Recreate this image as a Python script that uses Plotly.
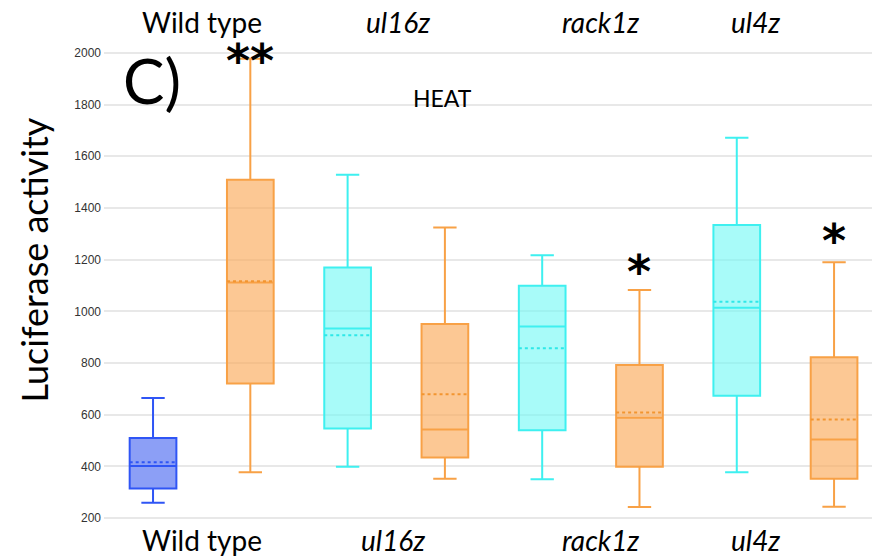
import plotly.graph_objects as go

# Luciferase activity per line, control vs heat-treated
groups = ["Wild type", "ul16z", "rack1z", "ul4z"]
conditions = ["control", "heat"]
lower_fence = [259, 377, 399, 352, 350, 243, 377, 244]
q1 = [315, 721, 547, 435, 540, 399, 673, 352]
median = [402, 1112, 934, 543, 941, 588, 1014, 504]
mean = [416, 1116, 908, 679, 857, 609, 1037, 582]
q3 = [510, 1509, 1170, 951, 1099, 792, 1334, 822]
upper_fence = [665, 1977, 1528, 1324, 1217, 1083, 1672, 1190]
significance = ["", "**", "", "", "", "*", "", "*"]
y_ticks = [200, 400, 600, 800, 1000, 1200, 1400, 1600, 1800, 2000]

# where each significance mark sits (y in axis units)
sig_mark_y = [None, 1968, None, None, None, 1152, None, 1272]

# styling per box: (line colour, fill colour, mean-line colour)
styles = [
    ("#2f55f5", "rgba(70,100,240,0.62)", "#2f55f5"),
    ("#f8a146", "rgba(250,170,90,0.65)", "#f29530"),
    ("#3ef0f0", "rgba(110,248,245,0.6)", "#2ee8e8"),
    ("#f8a146", "rgba(250,170,90,0.65)", "#f29530"),
    ("#3ef0f0", "rgba(110,248,245,0.6)", "#2ee8e8"),
    ("#f8a146", "rgba(250,170,90,0.65)", "#f29530"),
    ("#3ef0f0", "rgba(110,248,245,0.6)", "#2ee8e8"),
    ("#f8a146", "rgba(250,170,90,0.65)", "#f29530"),
]
box_width = 0.48

fig = go.Figure()
for i in range(len(median)):
    line_c, fill_c, mean_c = styles[i]
    fig.add_trace(go.Box(
        x=[i],
        lowerfence=[lower_fence[i]], q1=[q1[i]], median=[median[i]],
        q3=[q3[i]], upperfence=[upper_fence[i]],
        width=box_width,
        whiskerwidth=0.5,
        line=dict(color=line_c, width=2),
        fillcolor=fill_c,
        name=f"{groups[i // 2]} {conditions[i % 2]}",
        showlegend=False,
        hoverinfo="skip",
    ))
    # dotted mean line across the box
    fig.add_trace(go.Scatter(
        x=[i - box_width / 2, i + box_width / 2], y=[mean[i], mean[i]],
        mode="lines", line=dict(color=mean_c, width=2, dash="dot"),
        showlegend=False, hoverinfo="skip",
    ))

annotations = []
label_font = dict(family="Lato", size=28, color="black")

# group labels above and below the plot
top_pos = [0.5, 2.52, 4.6, 6.19]
bottom_pos = [0.5, 2.47, 4.6, 6.19]
for g, xt, xb in zip(groups, top_pos, bottom_pos):
    txt = g if g == "Wild type" else f"<i>{g}</i>"
    annotations.append(dict(x=xt, y=1.057, xref="x", yref="paper", text=txt,
                             showarrow=False, font=label_font,
                             xanchor="center", yanchor="middle"))
    annotations.append(dict(x=xb, y=-0.038, xref="x", yref="paper", text=txt,
                             showarrow=False, font=label_font,
                             xanchor="center", yanchor="middle"))

# significance marks
for i, s in enumerate(significance):
    if s:
        annotations.append(dict(x=i, y=sig_mark_y[i], xref="x", yref="y", text=f"<b>{s}</b>",
                                 showarrow=False, xanchor="center", yanchor="middle",
                                 font=dict(family="DejaVu Sans", size=46, color="black")))

annotations += [
    dict(x=0.0625, y=0.934, xref="paper", yref="paper", text="C)", showarrow=False,
         font=dict(family="Lato", size=62, color="black"), xanchor="center", yanchor="middle"),
    dict(x=2.98, y=1825, xref="x", yref="y", text="HEAT", showarrow=False,
         font=dict(family="Lato", size=23, color="black"), xanchor="center", yanchor="middle"),
    dict(x=-0.0918, y=0.554, xref="paper", yref="paper", text="Luciferase activity",
         textangle=-90, showarrow=False,
         font=dict(family="Lato", size=36, color="black"), xanchor="center", yanchor="middle"),
]

fig.update_layout(
    width=872, height=560,
    margin=dict(l=104, r=0, t=49, b=38),
    paper_bgcolor="white", plot_bgcolor="white",
    boxmode="overlay",
    xaxis=dict(range=[-0.504, 7.39], showticklabels=False, showgrid=False,
               zeroline=False, showline=False),
    yaxis=dict(range=[185, 2015], tickvals=y_ticks, showgrid=True,
               gridcolor="#e8e8e8", gridwidth=1.5, zeroline=False, showline=False,
               ticks="", ticklabelstandoff=2,
               tickfont=dict(family="Liberation Sans", size=12, color="#333")),
    annotations=annotations,
)

fig.write_html("out.html")
